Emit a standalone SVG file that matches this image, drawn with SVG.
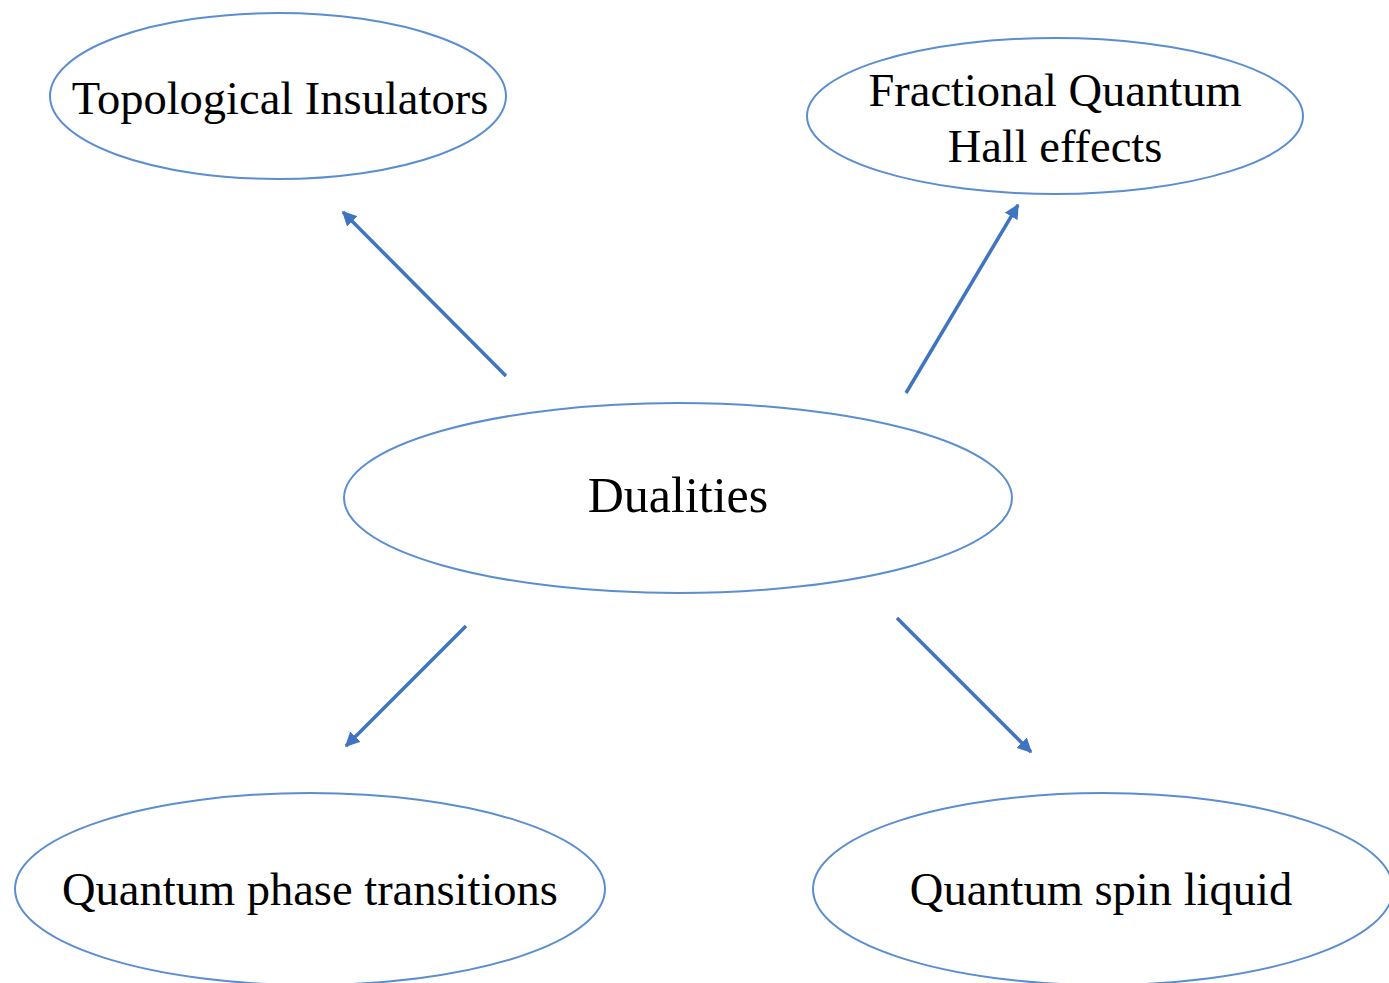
<svg xmlns="http://www.w3.org/2000/svg" width="1389" height="983" viewBox="0 0 1389 983">
<defs>
<style>
.node ellipse{fill:#fff;stroke:#5b8ed0;stroke-width:2}
.node text{font-family:"Liberation Serif","Times New Roman",serif;font-size:46.5px;fill:#000;text-anchor:middle}
.edges line{stroke:#3f74c1;stroke-width:3.5}
</style>
<marker id="ah" viewBox="0 0 10 10" refX="9" refY="5" markerWidth="4.2" markerHeight="4.2" orient="auto" markerUnits="strokeWidth">
<path d="M0,0 L10,5 L0,10 z" fill="#3f74c1"/>
</marker>
</defs>
<rect width="1389" height="983" fill="#fff"/>
<g id="n-topo" class="node">
<ellipse cx="278" cy="96" rx="228" ry="83"/>
<text x="280" y="114">Topological Insulators</text>
</g>
<g id="n-fqhe" class="node">
<ellipse cx="1055" cy="116" rx="248" ry="78"/>
<text x="1055" y="106">Fractional Quantum</text>
<text x="1055" y="162">Hall effects</text>
</g>
<g id="n-dual" class="node">
<ellipse cx="678" cy="498" rx="334" ry="95"/>
<text x="678" y="512" style="font-size:50px">Dualities</text>
</g>
<g id="n-qpt" class="node">
<ellipse cx="310" cy="889" rx="295" ry="96"/>
<text x="310" y="905">Quantum phase transitions</text>
</g>
<g id="n-qsl" class="node">
<ellipse cx="1103" cy="889" rx="290" ry="96"/>
<text x="1101" y="905">Quantum spin liquid</text>
</g>
<g id="edges" class="edges">
<line x1="506" y1="376" x2="343" y2="212" marker-end="url(#ah)"/>
<line x1="906" y1="393" x2="1018" y2="205" marker-end="url(#ah)"/>
<line x1="466" y1="626" x2="346" y2="746" marker-end="url(#ah)"/>
<line x1="897" y1="618" x2="1031" y2="752" marker-end="url(#ah)"/>
</g>
</svg>
